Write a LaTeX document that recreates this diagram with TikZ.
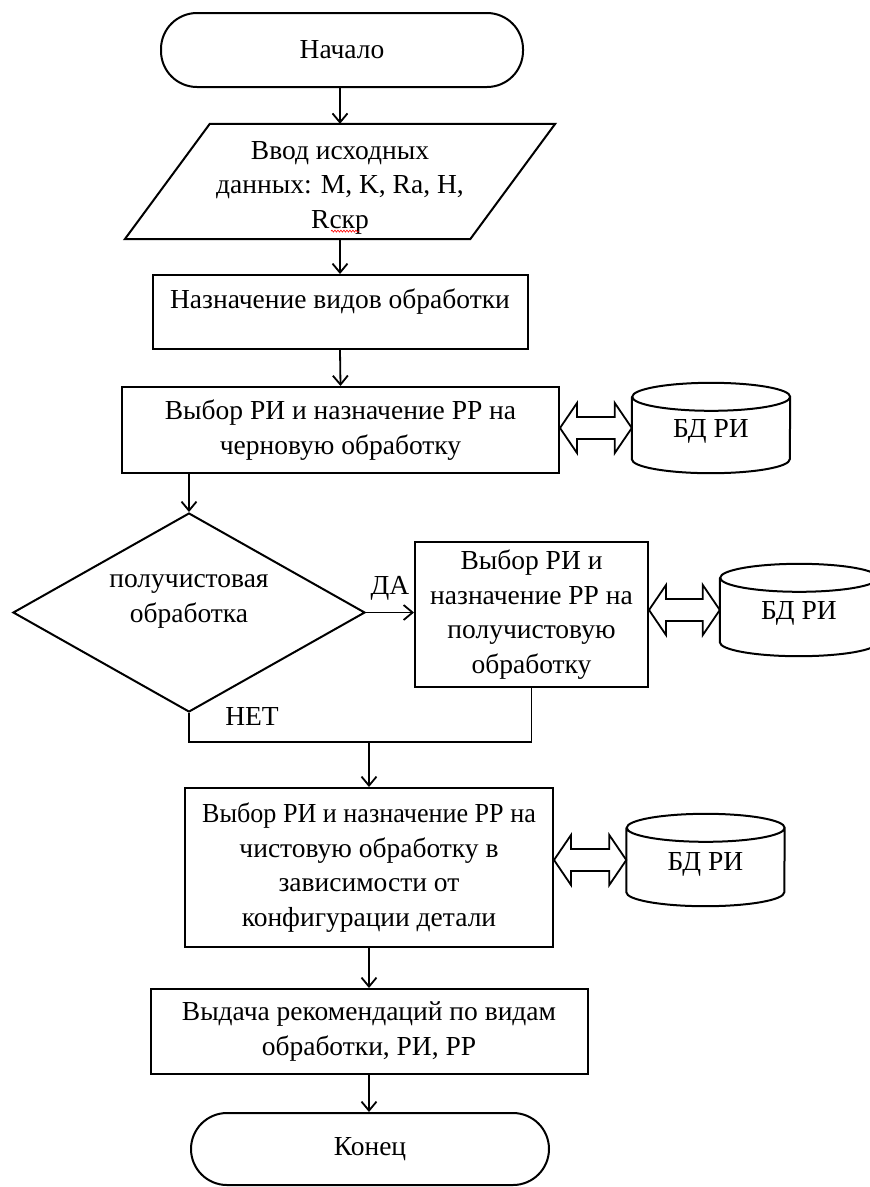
\documentclass[tikz,border=0pt]{standalone}
\usepackage{fontspec}
\setmainfont{Liberation Serif}
\usetikzlibrary{arrows.meta,shapes.geometric,calc,decorations.pathmorphing}
\newcommand\cylnd[1]{%
  \draw[shp] ([yshift=-14pt]#1.north west) -- ([yshift=14pt]#1.south west)
    arc[start angle=180, end angle=360, x radius=79pt, y radius=14pt]
    -- ([yshift=-14pt]#1.north east)
    arc[start angle=0, end angle=180, x radius=79pt, y radius=14pt]
    arc[start angle=180, end angle=360, x radius=79pt, y radius=14pt];}
\newcommand\dblarr[2]{%
  \draw[dbl] let \p1=(#1), \p2=(#2) in
    (\x1,\y1) -- ({\x1+17pt},{\y1+25pt}) -- ({\x1+17pt},{\y1+11pt})
    -- ({\x2-17pt},{\y1+11pt}) -- ({\x2-17pt},{\y1+25pt}) -- (\x2,\y1)
    -- ({\x2-17pt},{\y1-25pt}) -- ({\x2-17pt},{\y1-11pt})
    -- ({\x1+17pt},{\y1-11pt}) -- ({\x1+17pt},{\y1-25pt}) -- cycle;}
\begin{document}
\begin{tikzpicture}[x=1pt,y=-1pt,
  every node/.style={font=\fontsize{27.5}{34.5}\selectfont, inner sep=0pt},
  shp/.style={draw, line width=2pt},
  proc/.style={shp, rectangle, align=center},
  term/.style={shp, rectangle, rounded corners=36pt},
  txt/.style={align=center},
  dbtext/.style={minimum width=158pt, text depth=8pt},
  conn/.style={line width=1.8pt, -{Straight Barb[length=9pt,width=15pt,line width=1.8pt]}},
  plain/.style={line width=1.8pt},
  dbl/.style={line width=1.8pt, line join=miter},
]
\useasboundingbox (0,0) rectangle (870,1187);
\fill[white] (0,0) rectangle (870,1187);
\clip (0,0) rectangle (870,1187);

% nodes
\node[term, minimum width=362pt, minimum height=74pt] (start) at (342,50) {Начало};
\node[minimum width=345pt, minimum height=115pt] (inp) at (340,181.5) {};
\draw[shp, line join=miter] ([xshift=42.5pt]inp.north west) -- ([xshift=42.5pt]inp.north east)
  -- ([xshift=-42.5pt]inp.south east) -- ([xshift=-42.5pt]inp.south west) -- cycle;
\node[txt] (inptext) at ([yshift=-6pt]inp.center) {Ввод исходных\\данных: M, K, Ra, H,\\Rскр};
\draw[red, line width=0.6pt, decorate, decoration={snake, amplitude=1pt, segment length=3pt}]
  ([xshift=-9pt,yshift=3pt]inptext.south) -- ([xshift=19pt,yshift=3pt]inptext.south);

\node[proc, minimum width=375pt, minimum height=74pt] (b2) at (340,312) {};
\node[txt] (b2text) at ([yshift=10pt]b2.center) {Назначение видов обработки};

\node[proc, minimum width=437pt, minimum height=86pt] (b3) at (340.5,430)
  {Выбор РИ и назначение РР на\\черновую обработку};
\node[minimum width=158pt, minimum height=90pt] (db1) at (711,428) {};
\node at ([yshift=-3pt]db1.center) {БД РИ};

\node[shp, diamond, minimum width=352pt, minimum height=199pt] (dec) at (189,612.5) {};
\node[txt] (dectext) at ([yshift=11pt]dec.center) {получистовая\\обработка};

\node[proc, minimum width=233pt, minimum height=145pt] (b4) at (531.5,614.5)
  {Выбор РИ и\\назначение РР на\\получистовую\\обработку};
\node[minimum width=158pt, minimum height=92pt] (db2) at (799,610) {};
\node at ([yshift=-3pt]db2.center) {БД РИ};

\node[proc, minimum width=368pt, minimum height=159pt] (b5) at (369,867.5)
  {\addfontfeature{FakeStretch=0.95}Выбор РИ и назначение РР на\\чистовую обработку в\\зависимости от\\конфигурации детали};
\node[minimum width=158pt, minimum height=92pt] (db3) at (705.5,860) {};
\node at ([yshift=-4pt]db3.center) {БД РИ};

\node[proc, minimum width=437pt, minimum height=85pt] (b6) at (369,1031.5)
  {Выдача рекомендаций по видам\\обработки, РИ, РР};
\node[term, minimum width=358pt, minimum height=72pt] (end) at (370,1149) {Конец};

\cylnd{db1}
\cylnd{db2}
\cylnd{db3}

% connectors
\draw[conn] (start.south -| inp.north) -- (inp.north);
\draw[conn] (inp.south) -- (b2.north);
\draw[conn] (b2.south) -- (b3.north);
\draw[conn] (b3.south -| dec.north) -- (dec.north);
\draw[conn] (dec.east) -- (dec.east -| b4.west) node[pos=0.5, yshift=24pt] (da) {ДА};
\coordinate (j) at (369,742);
\draw[plain] (dec.south) |- (j -| b4.south) -- (b4.south);
\node (net) at ([xshift=63pt,yshift=-3pt]dec.south) {НЕТ};
\draw[conn] (j) -- (b5.north);
\draw[conn] (b5.south) -- (b6.north);
\draw[conn] (b6.south) -- (b6.south |- end.north);

\dblarr{b3.east |- db1.west}{db1.west}
\dblarr{b4.east |- db2.west}{db2.west}
\dblarr{b5.east |- db3.west}{db3.west}
\end{tikzpicture}
\end{document}
